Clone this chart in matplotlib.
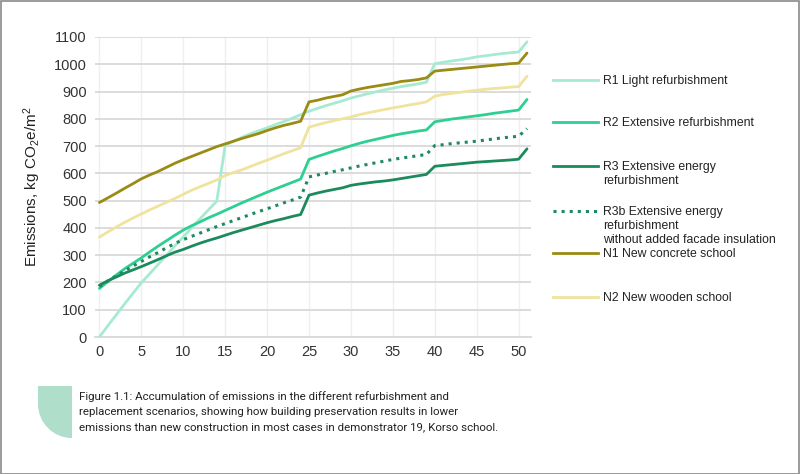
import numpy as np
import matplotlib
matplotlib.use("Agg")
import matplotlib.pyplot as plt
from matplotlib.patches import Rectangle, PathPatch
from matplotlib.path import Path
from matplotlib.lines import Line2D

plt.rcParams['font.family'] = ['Liberation Sans', 'DejaVu Sans']
plt.rcParams['mathtext.default'] = 'regular'

# data (kg CO2e/m2, years 0..51)
years = list(range(52))

r1 = [0, 41, 81, 121, 160, 199, 232, 266, 299, 334, 367, 400, 433, 466, 498,
      702, 718, 732, 745, 756, 767, 779, 790, 802, 815,
      828, 838, 848, 857, 866, 876, 884, 892, 899, 906, 912, 918, 923, 928, 934,
      1002, 1007, 1012, 1016, 1021, 1027, 1031, 1035, 1039, 1042, 1045, 1082]
r2 = [178, 203, 227, 250, 270, 290, 312, 333, 353, 373, 392, 408, 422, 437, 450,
      464, 478, 492, 505, 518, 531, 543, 555, 567, 579,
      651, 662, 672, 682, 691, 701, 710, 718, 725, 732, 739, 745, 750, 755, 759,
      789, 794, 799, 803, 807, 811, 815, 820, 824, 828, 832, 871]
r3 = [190, 206, 220, 234, 246, 258, 271, 284, 298, 311, 321, 333, 344, 354, 363,
      373, 383, 392, 401, 410, 419, 427, 434, 442, 449,
      520, 528, 535, 541, 547, 556, 561, 565, 569, 572, 576, 581, 586, 591, 596,
      626, 629, 632, 635, 638, 641, 643, 645, 647, 649, 652, 690]
r3b = [185, 205, 224, 242, 260, 277, 294, 310, 327, 343, 357, 369, 381, 393, 405,
       416, 427, 438, 449, 460, 470, 481, 492, 502, 513,
       587, 594, 600, 607, 613, 620, 627, 633, 639, 645, 651, 656, 660, 665, 669,
       702, 705, 709, 712, 715, 718, 722, 726, 730, 733, 736, 764]
n1 = [493, 510, 527, 545, 562, 580, 594, 607, 622, 637, 650, 662, 674, 686, 698,
      708, 718, 728, 737, 746, 757, 767, 776, 783, 791,
      862, 868, 876, 882, 888, 902, 909, 915, 920, 925, 930, 937, 940, 944, 950,
      975, 978, 981, 984, 987, 990, 993, 996, 999, 1002, 1004, 1041]
n2 = [366, 385, 403, 420, 436, 451, 466, 480, 494, 508, 523, 538, 551, 563, 576,
      592, 603, 613, 625, 637, 648, 660, 672, 683, 694,
      769, 778, 786, 793, 800, 807, 815, 822, 828, 834, 840, 845, 851, 856, 862,
      883, 889, 893, 897, 901, 905, 908, 911, 913, 916, 918, 956]

labels = ["R1 Light refurbishment",
          "R2 Extensive refurbishment",
          "R3 Extensive energy\nrefurbishment",
          "R3b Extensive energy\nrefurbishment\nwithout added facade insulation",
          "N1 New concrete school",
          "N2 New wooden school"]
series = [r1, r2, r3, r3b, n1, n2]
colors = ["#a6ead2", "#2ecf92", "#1b8a5c", "#1e8a62", "#9a8b14", "#efe39e"]
styles = ["-", "-", "-", ":", "-", "-"]

caption = ("Figure 1.1: Accumulation of emissions in the different refurbishment and\n"
           "replacement scenarios, showing how building preservation results in lower\n"
           "emissions than new construction in most cases in demonstrator 19, Korso school.")

fig = plt.figure(figsize=(8, 4.74), dpi=100)
ax = fig.add_axes([0.119, 0.289, 0.545, 0.633])

# draw order: back to front roughly like the original
order = [5, 4, 0, 1, 3, 2]
for i in order:
    ax.plot(years, series[i], color=colors[i], linestyle=styles[i],
            linewidth=2.2 if styles[i] == ":" else 2.0, zorder=3 + i * 0.1,
            solid_capstyle="round")

ax.set_xlim(-0.5, 51.5)
ax.set_ylim(0, 1100)
ax.set_xticks(range(0, 51, 5))
ax.set_yticks(range(0, 1101, 100))
ax.grid(axis="y", color="#d9d9d9", linewidth=1.3, zorder=1)
ax.grid(axis="x", color="#efefef", linewidth=1.0, zorder=1)
for s in ["top", "right", "left"]:
    ax.spines[s].set_visible(False)
ax.spines["bottom"].set_color("#d9d9d9")
ax.spines["bottom"].set_linewidth(1.3)
ax.tick_params(length=0, labelsize=10.5, colors="#333333", pad=6)
ax.set_ylabel(r"Emissions, kg CO$_2$e/m$^2$", fontsize=11, color="#222222", labelpad=8)

# legend drawn by hand to keep the original spacing
leg_y = [80, 122, 166, 211, 253, 297]
for i, lab in enumerate(labels):
    yf = 1 - leg_y[i] / 474
    fig.add_artist(Line2D([553 / 800, 598 / 800], [yf, yf], color=colors[i],
                          linestyle=styles[i], linewidth=2.2 if styles[i] == ":" else 2.0))
    fig.text(603 / 800, yf + 5 / 474, lab, fontsize=8.8, va="top", ha="left",
             color="#222222", linespacing=1.2)

# caption block with rounded green tab
x0, x1, y0, y1, r = 38 / 800, 72 / 800, 1 - 438 / 474, 1 - 386 / 474, 34
rx, ry = r / 800, r / 474
k = 0.5523
verts = [(x0, y1), (x1, y1), (x1, y0), (x0 + rx, y0),
         (x0 + rx * (1 - k), y0), (x0, y0 + ry * (1 - k)), (x0, y0 + ry),
         (x0, y1)]
codes = [Path.MOVETO, Path.LINETO, Path.LINETO, Path.LINETO,
         Path.CURVE4, Path.CURVE4, Path.CURVE4, Path.CLOSEPOLY]
fig.add_artist(PathPatch(Path(verts, codes), transform=fig.transFigure,
                         facecolor="#afdeca", edgecolor="none"))
fig.text(79 / 800, 1 - 391 / 474, caption, fontsize=8.25, va="top", ha="left",
         color="#222222", linespacing=1.66, family=["Roboto", "DejaVu Sans"])

# outer frame
fig.add_artist(Rectangle((0.5 / 800, 0.5 / 474), 1 - 1.5 / 800, 1 - 1.5 / 474,
                         transform=fig.transFigure, fill=False,
                         edgecolor="#8a8a8a", linewidth=1.2))

fig.savefig("out.png", dpi=100)
